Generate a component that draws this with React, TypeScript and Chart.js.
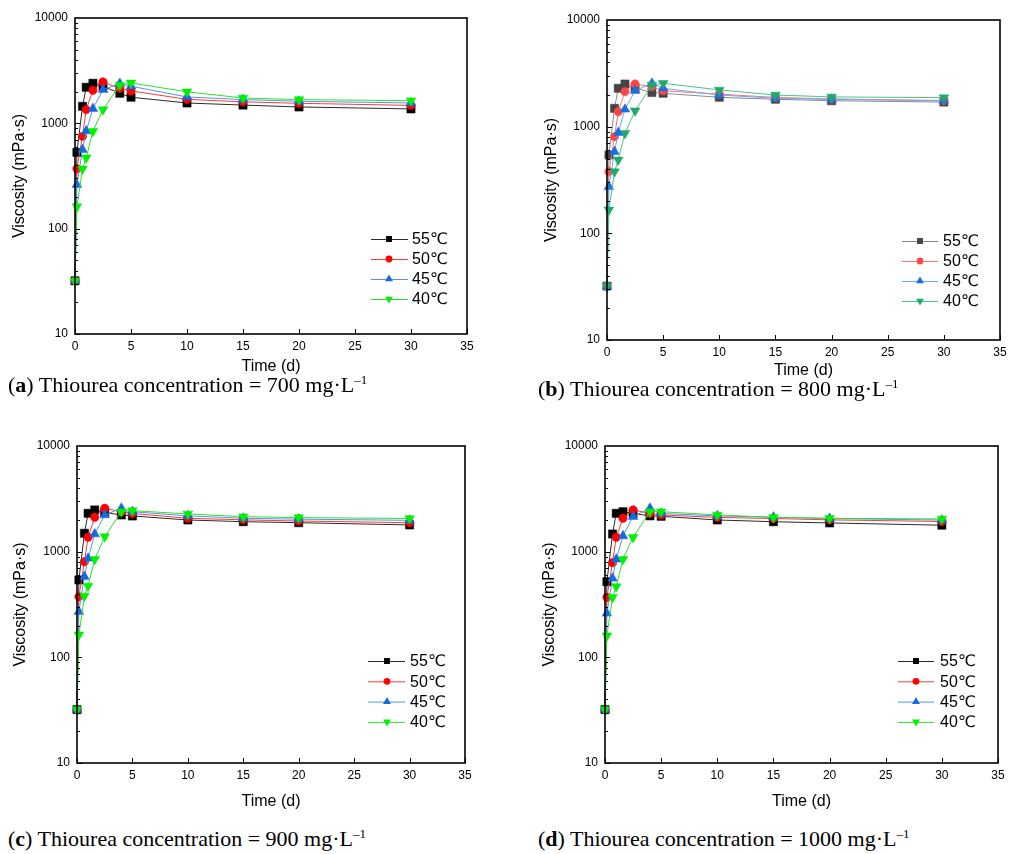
import React, { useEffect, useRef } from "react";
import { Chart, registerables } from "chart.js";

Chart.register(...registerables);

// ---------------- data ----------------
const TIME = [0, 0.17, 0.67, 1, 1.6, 2.5, 4, 5, 10, 15, 20, 30];
const SERIES_LABELS = ["55℃", "50℃", "45℃", "40℃"];
const X_TICKS = [0, 5, 10, 15, 20, 25, 30, 35];
const Y_TICKS = [10, 100, 1000, 10000];

// (a) 700 mg/L
const A_55 = [32, 530, 1450, 2200, 2400, 2250, 1930, 1770, 1560, 1490, 1430, 1370];
const A_50 = [32, 370, 752, 1350, 2060, 2470, 2150, 2030, 1690, 1600, 1550, 1480];
const A_45 = [32, 262, 563, 845, 1380, 2090, 2390, 2250, 1780, 1680, 1620, 1560];
const A_40 = [32, 162, 370, 471, 840, 1350, 2300, 2420, 1990, 1740, 1680, 1640];
// (b) 800 mg/L
const B_55 = [32, 543, 1486, 2290, 2510, 2300, 2090, 2055, 1885, 1807, 1750, 1700];
const B_50 = [32, 379, 806, 1380, 2130, 2510, 2370, 2170, 2020, 1880, 1820, 1760];
const B_45 = [32, 274, 583, 880, 1455, 2175, 2550, 2290, 1980, 1850, 1800, 1750];
const B_40 = [32, 166, 379, 488, 867, 1410, 2460, 2550, 2210, 1980, 1900, 1870];
// (c) 900 mg/L
const C_55 = [32, 540, 1493, 2306, 2483, 2350, 2225, 2176, 1995, 1922, 1880, 1790];
const C_50 = [32, 375, 803, 1368, 2114, 2574, 2390, 2300, 2070, 2000, 1950, 1880];
const C_45 = [32, 271, 580, 865, 1468, 2224, 2575, 2390, 2180, 2070, 2030, 1980];
const C_40 = [32, 163, 381, 473, 848, 1387, 2390, 2445, 2275, 2143, 2100, 2060];
// (d) 1000 mg/L
const D_55 = [32, 520, 1470, 2306, 2390, 2300, 2180, 2160, 1995, 1920, 1870, 1780];
const D_50 = [32, 370, 787, 1368, 2070, 2483, 2300, 2225, 2110, 2060, 2000, 1930];
const D_45 = [32, 261, 560, 848, 1410, 2144, 2575, 2300, 2180, 2120, 2060, 1990];
const D_40 = [32, 160, 370, 467, 848, 1368, 2390, 2390, 2225, 2110, 2070, 2040];

// ---------------- styles ----------------
const SANS = "'Liberation Sans', Arial, 'DejaVu Sans', sans-serif";
const SERIF = "'Liberation Serif', 'Times New Roman', serif";

const STD_MARKERS = ["#000000", "#ff0000", "#1769dc", "#00f000"];
const STD_LINES = ["#2a2a2a", "#ff3a3a", "#5096ea", "#2ee02e"];
const B_MARKERS = ["#454545", "#ff4545", "#1a6fe0", "#1faa6c"];
const B_LINES = ["#8a8a8a", "#ff7474", "#6aa8f0", "#45c48e"];
const STYLES = ["rect", "circle", "triangle", "triangle"];
const RADII = [5.8, 4.2, 5.6, 5.6];
const ROT = [0, 0, 0, 180];
const LEG_RADII = [4.2, 3.4, 4.6, 4.6];

type Legend = { x1: number; x2: number; mx: number; tx: number; y0: number; dy: number };
type PanelCfg = {
  left: number; top: number; w: number; h: number;
  L: number; R: number; T: number; B: number;
  yTitlePad: number; tickPad: number;
  legend: Legend; markers: string[]; lines: string[]; series: number[][];
};

function drawMarker(ctx: CanvasRenderingContext2D, style: string, x: number, y: number, r: number, rot: number) {
  ctx.beginPath();
  if (style === "rect") {
    const s = Math.SQRT1_2 * r;
    ctx.rect(x - s, y - s, 2 * s, 2 * s);
  } else if (style === "circle") {
    ctx.arc(x, y, r, 0, Math.PI * 2);
  } else {
    let a = (rot * Math.PI) / 180;
    ctx.moveTo(x + Math.sin(a) * r, y - Math.cos(a) * r);
    a += (2 * Math.PI) / 3;
    ctx.lineTo(x + Math.sin(a) * r, y - Math.cos(a) * r);
    a += (2 * Math.PI) / 3;
    ctx.lineTo(x + Math.sin(a) * r, y - Math.cos(a) * r);
    ctx.closePath();
  }
  ctx.fill();
}

function Panel({ cfg }: { cfg: PanelCfg }) {
  const ref = useRef<HTMLCanvasElement | null>(null);
  useEffect(() => {
    const canvas = ref.current;
    if (!canvas) return;
    const framePlugin = {
      id: "frame",
      afterDraw(chart: any) {
        const ctx: CanvasRenderingContext2D = chart.ctx;
        const { left, right, top, bottom } = chart.chartArea;
        const xs = chart.scales.x;
        const ys = chart.scales.y;
        ctx.save();
        ctx.strokeStyle = "#000";
        ctx.lineWidth = 1;
        for (const d of [10, 100, 1000]) {
          for (let k = 1; k <= 9; k++) {
            const py = Math.round(ys.getPixelForValue(k * d)) + 0.5;
            const len = k === 1 ? 5 : 3;
            ctx.beginPath();
            ctx.moveTo(left, py);
            ctx.lineTo(left + len, py);
            ctx.stroke();
          }
        }
        for (const v of X_TICKS) {
          const px = Math.round(xs.getPixelForValue(v)) + 0.5;
          ctx.beginPath();
          ctx.moveTo(px, bottom);
          ctx.lineTo(px, bottom - 5);
          ctx.stroke();
        }
        ctx.lineWidth = 1.6;
        ctx.strokeRect(left, top, right - left, bottom - top);
        const lg = cfg.legend;
        ctx.font = `16px ${SANS}`;
        ctx.textBaseline = "middle";
        ctx.textAlign = "left";
        SERIES_LABELS.forEach((lab, i) => {
          const y = lg.y0 + i * lg.dy;
          ctx.strokeStyle = cfg.lines[i];
          ctx.lineWidth = 1;
          ctx.beginPath();
          ctx.moveTo(lg.x1, y + 0.5);
          ctx.lineTo(lg.x2, y + 0.5);
          ctx.stroke();
          ctx.fillStyle = cfg.markers[i];
          drawMarker(ctx, STYLES[i], lg.mx, y, LEG_RADII[i], ROT[i]);
          ctx.fillStyle = "#000";
          ctx.fillText(lab, lg.tx, y + 1);
        });
        ctx.restore();
      },
    };

    const chart = new Chart(canvas, {
      type: "line",
      data: {
        datasets: cfg.series.map((vals, i) => ({
          label: SERIES_LABELS[i],
          data: TIME.map((t, j) => ({ x: t, y: vals[j] })),
          borderColor: cfg.lines[i],
          backgroundColor: cfg.markers[i],
          pointBackgroundColor: cfg.markers[i],
          pointBorderColor: cfg.markers[i],
          pointBorderWidth: 0.5,
          borderWidth: 1,
          pointStyle: STYLES[i] as any,
          pointRadius: RADII[i],
          pointRotation: ROT[i],
          tension: 0,
          order: 3 - i,
          clip: false as any,
        })),
      },
      options: {
        responsive: false,
        animation: false,
        devicePixelRatio: 1,
        layout: { padding: { left: 0, top: cfg.T, right: cfg.w - cfg.R, bottom: 0 } },
        plugins: { legend: { display: false }, tooltip: { enabled: false } },
        scales: {
          x: {
            type: "linear",
            min: 0,
            max: 35,
            position: "bottom",
            grid: { display: false, drawTicks: false },
            border: { display: false },
            afterBuildTicks: (s: any) => {
              s.ticks = X_TICKS.map((v) => ({ value: v }));
            },
            afterFit: (s: any) => {
              s.height = cfg.h - cfg.B;
            },
            ticks: {
              padding: cfg.tickPad,
              color: "#000",
              font: { family: SANS, size: 12 },
              maxRotation: 0,
              autoSkip: false,
            },
            title: {
              display: true,
              text: "Time (d)",
              color: "#000",
              font: { family: SANS, size: 16 },
              padding: 0,
            },
          },
          y: {
            type: "logarithmic",
            min: 10,
            max: 10000,
            position: "left",
            grid: { display: false, drawTicks: false },
            border: { display: false },
            afterBuildTicks: (s: any) => {
              s.ticks = Y_TICKS.map((v) => ({ value: v }));
            },
            afterFit: (s: any) => {
              s.width = cfg.L;
            },
            ticks: {
              padding: 7,
              color: "#000",
              font: { family: SANS, size: 12 },
              callback: (v: any) => String(v),
            },
            title: {
              display: true,
              text: "Viscosity (mPa·s)",
              color: "#000",
              font: { family: SANS, size: 16 },
              padding: { top: cfg.yTitlePad, bottom: 0 },
            },
          },
        },
      } as any,
      plugins: [framePlugin],
    });
    return () => chart.destroy();
  }, [cfg]);
  return (
    <canvas
      ref={ref}
      width={cfg.w}
      height={cfg.h}
      style={{ position: "absolute", left: cfg.left, top: cfg.top, width: cfg.w, height: cfg.h, display: "block" }}
    />
  );
}

const PANELS: PanelCfg[] = [
  {
    left: 0, top: 0, w: 500, h: 376, L: 75, R: 467, T: 18, B: 334, yTitlePad: 10, tickPad: 5,
    legend: { x1: 371, x2: 408, mx: 389, tx: 412, y0: 239, dy: 20 },
    markers: STD_MARKERS, lines: STD_LINES, series: [A_55, A_50, A_45, A_40],
  },
  {
    left: 530, top: 0, w: 483, h: 380, L: 77, R: 470, T: 20, B: 340, yTitlePad: 12, tickPad: 5,
    legend: { x1: 372, x2: 408, mx: 390, tx: 413, y0: 241, dy: 20 },
    markers: B_MARKERS, lines: B_LINES, series: [B_55, B_50, B_45, B_40],
  },
  {
    left: 0, top: 428, w: 500, h: 383, L: 77, R: 465, T: 18, B: 335, yTitlePad: 11, tickPad: 5,
    legend: { x1: 368, x2: 405, mx: 387, tx: 410, y0: 233, dy: 20.3 },
    markers: STD_MARKERS, lines: STD_LINES, series: [C_55, C_50, C_45, C_40],
  },
  {
    left: 530, top: 428, w: 483, h: 383, L: 75, R: 468, T: 18, B: 335, yTitlePad: 10, tickPad: 5,
    legend: { x1: 368, x2: 404, mx: 386, tx: 410, y0: 233, dy: 20.3 },
    markers: STD_MARKERS, lines: STD_LINES, series: [D_55, D_50, D_45, D_40],
  },
];

const CAPTIONS = [
  { letter: "a", conc: "700", left: 8, cy: 385 },
  { letter: "b", conc: "800", left: 538, cy: 389 },
  { letter: "c", conc: "900", left: 8, cy: 839 },
  { letter: "d", conc: "1000", left: 538, cy: 839 },
];

export default function App() {
  return (
    <div style={{ position: "absolute", left: 0, top: 0, width: 1013, height: 854, background: "#fff", overflow: "hidden" }}>
      {PANELS.map((p, i) => (
        <Panel key={i} cfg={p} />
      ))}
      {CAPTIONS.map((c, i) => (
        <div
          key={"cap" + i}
          style={{
            position: "absolute",
            left: c.left,
            top: c.cy - 13,
            height: 26,
            lineHeight: "26px",
            fontFamily: SERIF,
            fontSize: 22,
            whiteSpace: "nowrap",
            color: "#000",
          }}
        >
          (<b>{c.letter}</b>) Thiourea concentration = {c.conc} mg·L
          <span style={{ fontSize: 13, position: "relative", top: -8 }}>–1</span>
        </div>
      ))}
    </div>
  );
}
